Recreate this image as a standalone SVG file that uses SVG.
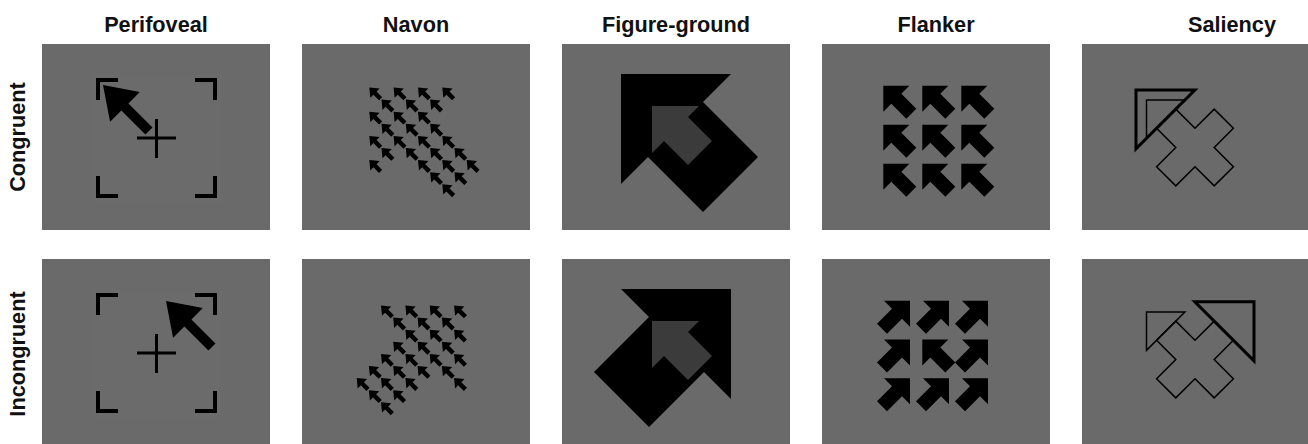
<svg xmlns="http://www.w3.org/2000/svg" xmlns:xlink="http://www.w3.org/1999/xlink" width="1308" height="444" viewBox="0 0 1308 444">
<style>
.bg{fill:#6a6a6a}
.t{font-family:"Liberation Sans",Arial,sans-serif;font-weight:bold;font-size:21.7px;fill:#111;text-anchor:middle}
.br{fill:none;stroke:#000;stroke-width:4;stroke-linejoin:miter}
.cr{fill:none;stroke:#000;stroke-width:3}
.blk{fill:#000}
.dk{fill:#3b3b3b}
.thick{fill:none;stroke:#000;stroke-width:3;stroke-linejoin:miter}
.thin{fill:none;stroke:#000;stroke-width:1.5;stroke-linejoin:miter}
</style>
<defs>
<polygon id="bigArrow" points="0,0 21,31 5,31 5,65 -5,65 -5,31 -21,31" transform="rotate(-45)"/>
<polygon id="na" points="0,0 6.6,8 2.2,8 2.2,16 -2.2,16 -2.2,8 -6.6,8" transform="rotate(-45)"/>
<polygon id="fl" points="0,0 26,0 18,8 33,23 23,33 8,18 0,26"/>
<polygon id="fr" points="0,0 -26,0 -18,8 -33,23 -23,33 -8,18 0,26"/>
</defs>
<rect width="1308" height="444" fill="#fff"/>

<g id="titles">
<text class="t" x="156" y="31.5">Perifoveal</text>
<text class="t" x="416" y="31.5">Navon</text>
<text class="t" x="676" y="31.5">Figure-ground</text>
<text class="t" x="936" y="31.5">Flanker</text>
<text class="t" x="1232" y="31.5">Saliency</text>
<text class="t" transform="translate(25,137) rotate(-90)">Congruent</text>
<text class="t" transform="translate(25,354) rotate(-90)">Incongruent</text>
</g>

<g id="perifoveal-congruent">
<rect class="bg" x="42" y="44" width="228" height="186"/>
<rect x="92" y="75" width="130" height="128" fill="#6b6b6b"/>
<path class="br" d="M98,100V80H118M195,80H215V100M98,176V196H118M195,196H215V176"/>
<path class="cr" d="M137,138H176M156.5,119V158"/>
<use xlink:href="#bigArrow" x="103" y="85"/>
</g>
<g id="perifoveal-incongruent">
<rect class="bg" x="42" y="259" width="228" height="186"/>
<rect x="92" y="290" width="130" height="128" fill="#6b6b6b"/>
<path class="br" d="M98,315V295H118M195,295H215V315M98,391V411H118M195,411H215V391"/>
<path class="cr" d="M137,353H176M156.5,334V373"/>
<use xlink:href="#bigArrow" x="166" y="301"/>
</g>

<g id="navon-congruent">
<rect class="bg" x="302" y="44" width="228" height="186"/>
<use xlink:href="#na" x="369.3" y="87.5"/><use xlink:href="#na" x="393.6" y="87.5"/><use xlink:href="#na" x="418" y="87.5"/><use xlink:href="#na" x="442.3" y="87.5"/>
<use xlink:href="#na" x="381.5" y="99.6"/><use xlink:href="#na" x="405.8" y="99.6"/><use xlink:href="#na" x="430.2" y="99.6"/>
<use xlink:href="#na" x="369.3" y="111.7"/><use xlink:href="#na" x="393.6" y="111.7"/><use xlink:href="#na" x="418" y="111.7"/>
<use xlink:href="#na" x="381.5" y="123.8"/><use xlink:href="#na" x="405.8" y="123.8"/><use xlink:href="#na" x="430.2" y="123.8"/>
<use xlink:href="#na" x="369.3" y="135.9"/><use xlink:href="#na" x="393.6" y="135.9"/><use xlink:href="#na" x="418" y="135.9"/><use xlink:href="#na" x="442.3" y="135.9"/>
<use xlink:href="#na" x="381.5" y="148"/><use xlink:href="#na" x="405.8" y="148"/><use xlink:href="#na" x="430.2" y="148"/><use xlink:href="#na" x="454.5" y="148"/>
<use xlink:href="#na" x="369.3" y="160.1"/><use xlink:href="#na" x="418" y="160.1"/><use xlink:href="#na" x="442.3" y="160.1"/><use xlink:href="#na" x="466.7" y="160.1"/>
<use xlink:href="#na" x="430.2" y="172.2"/><use xlink:href="#na" x="454.5" y="172.2"/>
<use xlink:href="#na" x="442.3" y="184.3"/>
</g>
<g id="navon-incongruent">
<rect class="bg" x="302" y="259" width="228" height="186"/>
<use xlink:href="#na" x="381" y="305.5"/><use xlink:href="#na" x="405.4" y="305.5"/><use xlink:href="#na" x="429.7" y="305.5"/><use xlink:href="#na" x="454.1" y="305.5"/>
<use xlink:href="#na" x="393.2" y="317.6"/><use xlink:href="#na" x="417.6" y="317.6"/><use xlink:href="#na" x="441.9" y="317.6"/>
<use xlink:href="#na" x="405.4" y="329.7"/><use xlink:href="#na" x="429.7" y="329.7"/><use xlink:href="#na" x="454.1" y="329.7"/>
<use xlink:href="#na" x="393.2" y="341.8"/><use xlink:href="#na" x="417.6" y="341.8"/><use xlink:href="#na" x="441.9" y="341.8"/>
<use xlink:href="#na" x="381" y="353.9"/><use xlink:href="#na" x="405.4" y="353.9"/><use xlink:href="#na" x="429.7" y="353.9"/><use xlink:href="#na" x="454.1" y="353.9"/>
<use xlink:href="#na" x="368.9" y="366"/><use xlink:href="#na" x="393.2" y="366"/><use xlink:href="#na" x="417.6" y="366"/><use xlink:href="#na" x="441.9" y="366"/>
<use xlink:href="#na" x="356.7" y="378.1"/><use xlink:href="#na" x="381" y="378.1"/><use xlink:href="#na" x="405.4" y="378.1"/><use xlink:href="#na" x="454.1" y="378.1"/>
<use xlink:href="#na" x="368.9" y="390.2"/><use xlink:href="#na" x="393.2" y="390.2"/>
<use xlink:href="#na" x="381" y="402.3"/>
</g>

<g id="figure-ground-congruent">
<rect class="bg" x="562" y="44" width="228" height="186"/>
<polygon class="blk" points="621,74 731,74 703,102 758,157 703,212 648,157 621,184"/>
<polygon class="dk" points="652,106 699,106 688,117 712,141 688,165 664,141 652,153"/>
</g>
<g id="figure-ground-incongruent">
<rect class="bg" x="562" y="259" width="228" height="186"/>
<polygon class="blk" points="731,289 621,289 649,317 594,372 649,427 704,372 731,399"/>
<polygon class="dk" points="652,321 699,321 688,332 712,356 688,380 664,356 652,368"/>
</g>

<g id="flanker-congruent">
<rect class="bg" x="822" y="44" width="228" height="186"/>
<use xlink:href="#fl" x="883.3" y="85.7"/><use xlink:href="#fl" x="922.3" y="85.7"/><use xlink:href="#fl" x="961.3" y="85.7"/>
<use xlink:href="#fl" x="883.3" y="124.7"/><use xlink:href="#fl" x="922.3" y="124.7"/><use xlink:href="#fl" x="961.3" y="124.7"/>
<use xlink:href="#fl" x="883.3" y="163.7"/><use xlink:href="#fl" x="922.3" y="163.7"/><use xlink:href="#fl" x="961.3" y="163.7"/>
</g>
<g id="flanker-incongruent">
<rect class="bg" x="822" y="259" width="228" height="186"/>
<use xlink:href="#fr" x="910" y="300.7"/><use xlink:href="#fr" x="949" y="300.7"/><use xlink:href="#fr" x="988" y="300.7"/>
<use xlink:href="#fr" x="910" y="339.5"/><use xlink:href="#fl" x="922.3" y="339.5"/><use xlink:href="#fr" x="988" y="339.5"/>
<use xlink:href="#fr" x="910" y="378.3"/><use xlink:href="#fr" x="949" y="378.3"/><use xlink:href="#fr" x="988" y="378.3"/>
</g>

<g id="saliency-congruent">
<rect class="bg" x="1082" y="44" width="228" height="186"/>
<polygon class="thin" points="1195,128.3 1214.2,109.1 1233.4,128.3 1214.2,147.5 1233.4,166.7 1214.2,185.9 1195,166.7 1175.8,185.9 1156.6,166.7 1175.8,147.5 1156.6,128.3 1175.8,109.1"/>
<polygon class="thin" points="1146.5,100 1184.4,100 1146.5,138.4"/>
<polygon class="thick" points="1136,90 1194.9,90 1136,148.9"/>
</g>
<g id="saliency-incongruent">
<rect class="bg" x="1082" y="259" width="228" height="186"/>
<polygon class="thin" points="1195,340.3 1214.2,321.1 1233.4,340.3 1214.2,359.5 1233.4,378.7 1214.2,397.9 1195,378.7 1175.8,397.9 1156.6,378.7 1175.8,359.5 1156.6,340.3 1175.8,321.1"/>
<polygon class="thin" points="1146.5,312 1184.9,312 1146.5,350.4"/>
<polygon class="thick" points="1194.8,301.7 1254,301.7 1254,360.9"/>
</g>
</svg>
